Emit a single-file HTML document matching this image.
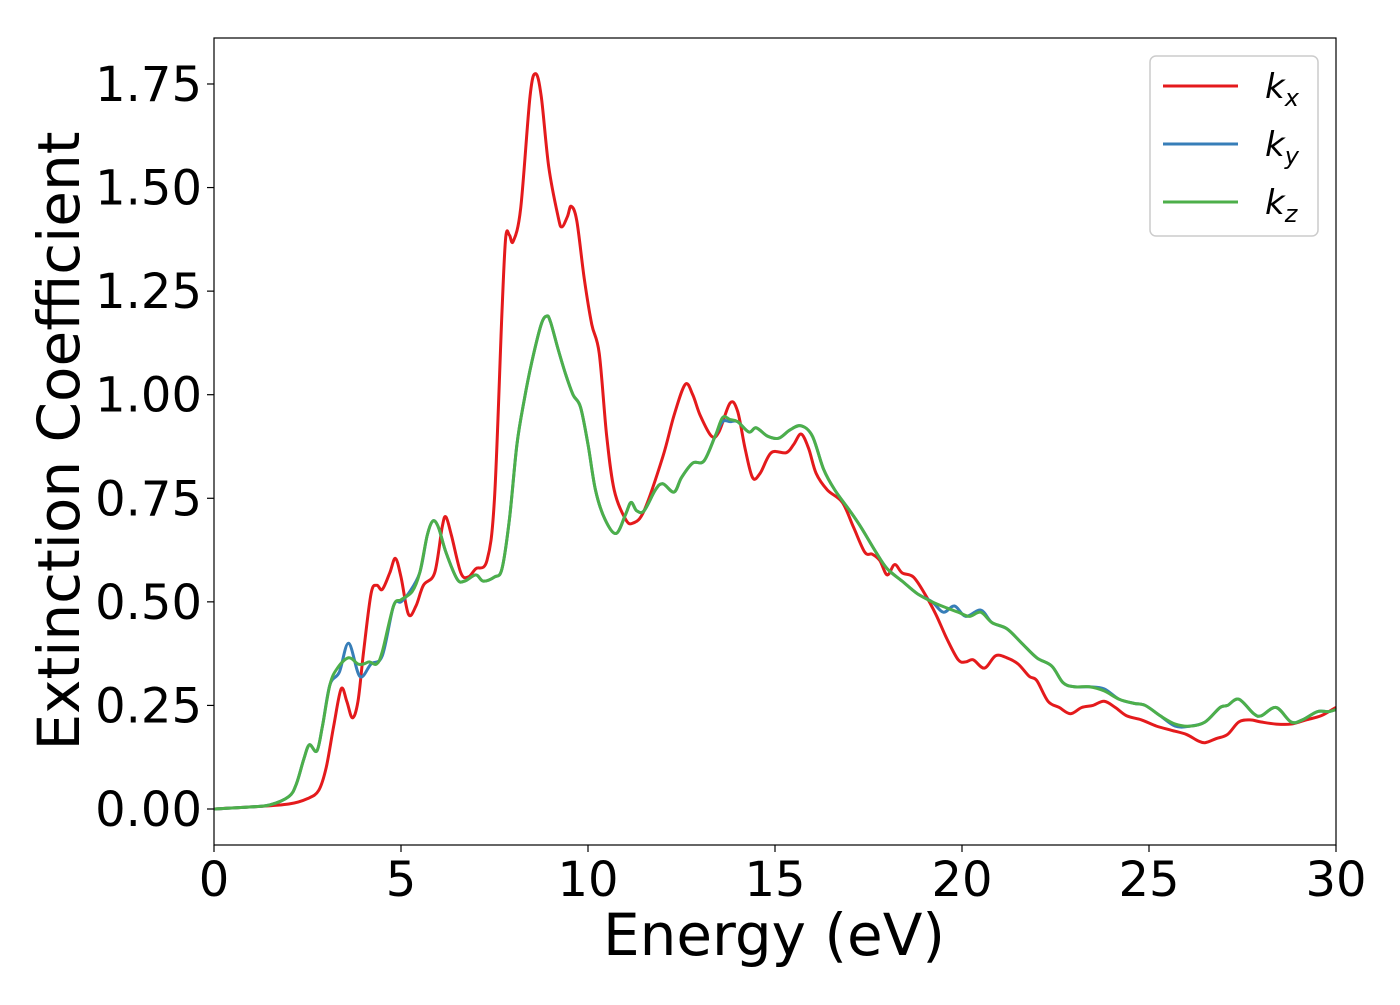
<!DOCTYPE html>
<html><head><meta charset="utf-8"><style>
body{margin:0;background:#fff;}
svg text{font-family:"DejaVu Sans","Liberation Sans",sans-serif;fill:#000;}
</style></head><body>
<svg id="chart" width="1400" height="1000" xmlns="http://www.w3.org/2000/svg">
<rect width="1400" height="1000" fill="#fff"/>
<g id="plot"></g>
<g id="axes"></g>
<text x="774" y="955" font-size="58" text-anchor="middle">Energy (eV)</text>
<text transform="translate(79,441) rotate(-90)" font-size="58" text-anchor="middle">Extinction Coefficient</text>
<g>
<rect x="1150" y="56" width="168" height="180" rx="6" fill="#fff" stroke="#ccc" stroke-width="1.5"/>
<g><line x1="1163" y1="86" x2="1238" y2="86" stroke="#e41a1c" stroke-width="3"/><text x="1265" y="98" font-size="34" font-style="italic">k<tspan font-size="24" dy="8">x</tspan></text></g>
<g><line x1="1163" y1="144" x2="1238" y2="144" stroke="#377eb8" stroke-width="3"/><text x="1265" y="156" font-size="34" font-style="italic">k<tspan font-size="24" dy="8">y</tspan></text></g>
<g><line x1="1163" y1="202" x2="1238" y2="202" stroke="#4daf4a" stroke-width="3"/><text x="1265" y="214" font-size="34" font-style="italic">k<tspan font-size="24" dy="8">z</tspan></text></g>
</g>
</svg>
<script>
const xTicks=[0,5,10,15,20,25,30];
const yTicks=[0,0.25,0.5,0.75,1.0,1.25,1.5,1.75];
const yTickLabels=["0.00","0.25","0.50","0.75","1.00","1.25","1.50","1.75"];
const kxE=[0,1,2,2.5,2.8,3.0,3.2,3.4,3.55,3.7,3.85,4.0,4.2,4.35,4.5,4.7,4.85,5.0,5.2,5.4,5.6,5.9,6.1,6.2,6.35,6.6,6.8,7.0,7.3,7.5,7.7,7.8,7.9,8.0,8.2,8.45,8.6,8.75,8.95,9.2,9.3,9.45,9.55,9.7,9.9,10.1,10.3,10.5,10.7,11.0,11.2,11.5,12.0,12.3,12.6,12.8,13.0,13.3,13.5,13.8,14.0,14.2,14.4,14.6,14.9,15.3,15.5,15.7,15.9,16.1,16.4,16.8,17.1,17.4,17.6,17.8,18.0,18.2,18.4,18.7,19.0,19.3,19.6,19.9,20.1,20.3,20.6,20.9,21.2,21.5,21.8,22.0,22.3,22.6,22.9,23.2,23.5,23.8,24.1,24.4,24.8,25.2,25.6,26.0,26.3,26.5,26.8,27.1,27.4,27.7,28.0,28.4,28.8,29.2,29.6,29.9,30];
const kxV=[0,0.005,0.012,0.025,0.045,0.1,0.2,0.29,0.26,0.22,0.26,0.38,0.52,0.54,0.53,0.57,0.605,0.56,0.47,0.49,0.54,0.57,0.68,0.705,0.66,0.57,0.56,0.58,0.6,0.75,1.2,1.38,1.385,1.37,1.45,1.72,1.775,1.72,1.55,1.43,1.405,1.43,1.455,1.42,1.28,1.17,1.1,0.9,0.77,0.7,0.69,0.72,0.85,0.95,1.025,1.0,0.95,0.9,0.91,0.98,0.96,0.87,0.8,0.81,0.86,0.86,0.88,0.905,0.87,0.81,0.77,0.74,0.68,0.62,0.615,0.6,0.565,0.59,0.57,0.56,0.52,0.47,0.41,0.36,0.355,0.36,0.34,0.37,0.365,0.35,0.32,0.31,0.26,0.245,0.23,0.245,0.25,0.26,0.245,0.225,0.215,0.2,0.19,0.18,0.165,0.16,0.17,0.18,0.21,0.215,0.21,0.205,0.205,0.215,0.225,0.24,0.245];
const kzE=[0,1,1.5,2.0,2.2,2.4,2.55,2.75,2.9,3.1,3.3,3.6,3.85,4.0,4.15,4.35,4.5,4.8,5.0,5.3,5.5,5.7,5.85,6.0,6.2,6.5,6.7,7.0,7.2,7.5,7.7,7.9,8.1,8.3,8.5,8.75,8.9,9.0,9.2,9.4,9.6,9.8,10.0,10.2,10.45,10.75,11.0,11.15,11.3,11.5,11.8,12.0,12.3,12.5,12.8,13.1,13.4,13.6,13.8,14.0,14.3,14.5,14.8,15.1,15.4,15.7,16.0,16.3,16.6,17.0,17.3,17.7,18.0,18.4,18.8,19.2,19.6,19.9,20.2,20.5,20.8,21.2,21.6,22.0,22.4,22.7,23.0,23.4,23.8,24.2,24.6,24.9,25.3,25.7,26.1,26.5,26.9,27.1,27.4,27.8,28.0,28.4,28.8,29.1,29.5,29.8,30];
const kzV=[0,0.005,0.01,0.03,0.06,0.12,0.155,0.14,0.2,0.3,0.34,0.365,0.35,0.35,0.355,0.35,0.38,0.49,0.505,0.525,0.57,0.66,0.695,0.68,0.62,0.555,0.55,0.565,0.55,0.56,0.58,0.7,0.88,0.99,1.08,1.17,1.19,1.175,1.11,1.05,1.0,0.97,0.88,0.77,0.7,0.665,0.71,0.74,0.72,0.72,0.77,0.785,0.765,0.8,0.835,0.84,0.9,0.945,0.94,0.935,0.91,0.92,0.9,0.895,0.915,0.925,0.9,0.82,0.77,0.72,0.68,0.62,0.58,0.55,0.52,0.5,0.485,0.475,0.465,0.475,0.45,0.435,0.4,0.365,0.345,0.305,0.295,0.295,0.285,0.265,0.255,0.25,0.225,0.205,0.2,0.21,0.245,0.25,0.265,0.23,0.225,0.245,0.21,0.215,0.235,0.235,0.24];
const kyE=[0,1,1.5,2.0,2.2,2.4,2.55,2.75,2.9,3.1,3.35,3.6,3.9,4.2,4.5,4.8,5.0,5.2,5.5,5.7,5.85,6.0,6.2,6.5,6.7,7.0,7.2,7.5,7.7,7.9,8.1,8.3,8.5,8.75,8.9,9.0,9.2,9.4,9.6,9.8,10.0,10.2,10.45,10.75,11.0,11.15,11.3,11.5,11.8,12.0,12.3,12.5,12.8,13.1,13.4,13.6,13.8,14.0,14.3,14.5,14.8,15.1,15.4,15.7,16.0,16.3,16.6,17.0,17.3,17.7,18.0,18.4,18.8,19.2,19.5,19.8,20.1,20.5,20.8,21.2,21.6,22.0,22.4,22.7,23.0,23.4,23.8,24.2,24.6,24.9,25.3,25.7,26.1,26.5,26.9,27.1,27.4,27.8,28.0,28.4,28.8,29.1,29.5,29.8,30];
const kyV=[0,0.005,0.01,0.03,0.06,0.12,0.155,0.14,0.2,0.3,0.33,0.4,0.32,0.35,0.37,0.49,0.5,0.52,0.57,0.66,0.695,0.68,0.62,0.555,0.55,0.565,0.55,0.56,0.58,0.7,0.88,0.99,1.08,1.17,1.19,1.175,1.11,1.05,1.0,0.97,0.88,0.77,0.7,0.665,0.71,0.74,0.72,0.72,0.77,0.785,0.765,0.8,0.835,0.84,0.9,0.935,0.935,0.935,0.91,0.92,0.9,0.895,0.915,0.925,0.9,0.82,0.77,0.72,0.68,0.62,0.58,0.55,0.52,0.5,0.475,0.49,0.465,0.48,0.45,0.435,0.4,0.365,0.345,0.305,0.295,0.295,0.29,0.265,0.255,0.25,0.225,0.2,0.2,0.21,0.245,0.25,0.265,0.23,0.225,0.245,0.21,0.215,0.235,0.235,0.24];

const X0=214,X1=1336,Y0=38,Y1=845,XMIN=0,XMAX=30,YMIN=-0.0869,YMAX=1.861;
const xs=v=>X0+(v-XMIN)/(XMAX-XMIN)*(X1-X0);
const ys=v=>Y1-(v-YMIN)/(YMAX-YMIN)*(Y1-Y0);
const NS="http://www.w3.org/2000/svg";
const plot=document.getElementById('plot'),axes=document.getElementById('axes');
function smooth(E,V){
  const p=E.map((e,i)=>[xs(e),ys(V[i])]);
  let d=`M${p[0][0]},${p[0][1]}`;
  for(let i=0;i<p.length-1;i++){
    const a=p[Math.max(0,i-1)],b=p[i],c=p[i+1],n=p[Math.min(p.length-1,i+2)];
    const c1=[b[0]+(c[0]-a[0])/6,b[1]+(c[1]-a[1])/6],c2=[c[0]-(n[0]-b[0])/6,c[1]-(n[1]-b[1])/6];
    d+=`C${c1[0]},${c1[1]} ${c2[0]},${c2[1]} ${c[0]},${c[1]}`;
  }
  return d;
}
function line(E,V,col,name){
  const el=document.createElementNS(NS,'path');
  el.setAttribute('d',smooth(E,V));el.setAttribute('fill','none');el.setAttribute('stroke',col);el.setAttribute('stroke-width','3');el.setAttribute('stroke-linejoin','round');
  
  
  plot.appendChild(el);
}
line(kxE,kxV,'#e41a1c','series-kx');
line(kyE,kyV,'#377eb8','series-ky');
line(kzE,kzV,'#4daf4a','series-kz');
const frame=document.createElementNS(NS,'rect');
frame.setAttribute('x',X0);frame.setAttribute('y',Y0);frame.setAttribute('width',X1-X0);frame.setAttribute('height',Y1-Y0);frame.setAttribute('fill','none');frame.setAttribute('stroke','#000');frame.setAttribute('stroke-width','1.2');


axes.appendChild(frame);
xTicks.forEach(t=>{
  const tk=document.createElementNS(NS,'line');
  tk.setAttribute('x1',xs(t));tk.setAttribute('x2',xs(t));tk.setAttribute('y1',Y1);tk.setAttribute('y2',Y1+7);tk.setAttribute('stroke','#000');tk.setAttribute('stroke-width','1.2');
  
  
  axes.appendChild(tk);
  const tx=document.createElementNS(NS,'text');
  tx.setAttribute('x',xs(t));tx.setAttribute('y',Y1+51);tx.setAttribute('font-size','48');tx.setAttribute('text-anchor','middle');tx.textContent=t;
  
  
  axes.appendChild(tx);
});
yTicks.forEach((t,i)=>{
  const tk=document.createElementNS(NS,'line');
  tk.setAttribute('x1',X0-7);tk.setAttribute('x2',X0);tk.setAttribute('y1',ys(t));tk.setAttribute('y2',ys(t));tk.setAttribute('stroke','#000');tk.setAttribute('stroke-width','1.2');
  
  
  axes.appendChild(tk);
  const tx=document.createElementNS(NS,'text');
  tx.setAttribute('x',X0-12);tx.setAttribute('y',ys(t)+17);tx.setAttribute('font-size','48');tx.setAttribute('text-anchor','end');tx.textContent=yTickLabels[i];
  
  
  axes.appendChild(tx);
});
</script>
</body></html>
